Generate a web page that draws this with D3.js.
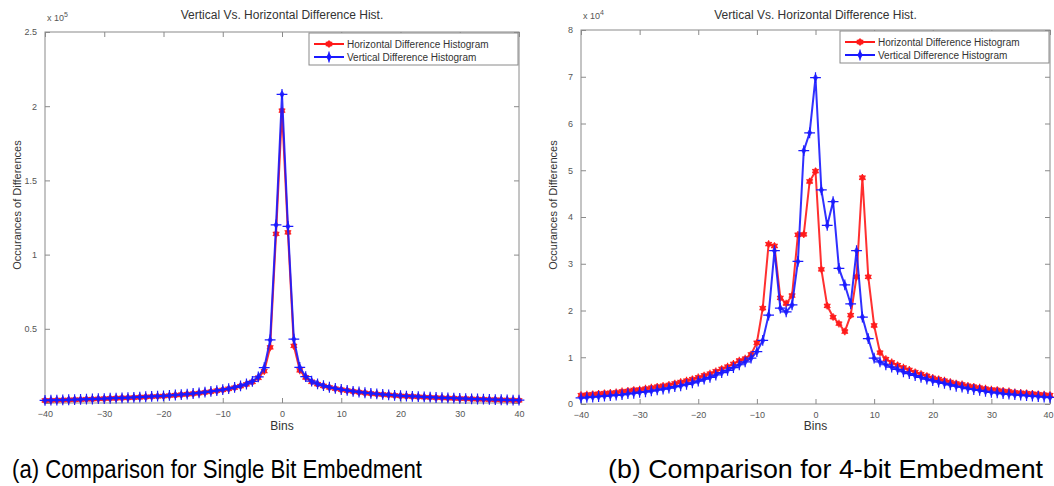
<!DOCTYPE html>
<html>
<head>
<meta charset="utf-8">
<script src="https://cdn.jsdelivr.net/npm/d3@7"></script>
<style>
  body { margin: 0; background: #fff; }
  svg { display: block; font-family: "Liberation Sans", Arial, sans-serif; }
</style>
</head>
<body>
<div class="canvas"></div>
<script>
// bins on the x axis
const bins = d3.range(-40, 41);
const xTicks = [-40, -30, -20, -10, 0, 10, 20, 30, 40];

// (a) single bit, values in units of 10^5
const leftTicks = [0, 0.5, 1, 1.5, 2, 2.5];
const leftHoriz = [
  0.017, 0.018, 0.019, 0.020, 0.021, 0.022, 0.023, 0.025, 0.026, 0.028,
  0.029, 0.031, 0.032, 0.034, 0.035, 0.037, 0.039, 0.041, 0.043, 0.045,
  0.047, 0.050, 0.053, 0.056, 0.059, 0.063, 0.067, 0.072, 0.077, 0.083,
  0.089, 0.096, 0.104, 0.114, 0.126, 0.142, 0.170, 0.215, 0.375, 1.14,
  1.97,
  1.15, 0.385, 0.220, 0.172, 0.143, 0.127, 0.115, 0.105, 0.097, 0.090,
  0.084, 0.078, 0.073, 0.068, 0.064, 0.060, 0.057, 0.054, 0.051, 0.048,
  0.046, 0.044, 0.042, 0.040, 0.038, 0.036, 0.035, 0.033, 0.032, 0.030,
  0.029, 0.027, 0.026, 0.025, 0.023, 0.022, 0.021, 0.020, 0.019, 0.018
];
const leftVert = [
  0.018, 0.019, 0.020, 0.021, 0.022, 0.023, 0.024, 0.026, 0.027, 0.029,
  0.030, 0.032, 0.033, 0.035, 0.036, 0.038, 0.040, 0.042, 0.044, 0.046,
  0.048, 0.051, 0.054, 0.057, 0.060, 0.064, 0.068, 0.073, 0.078, 0.084,
  0.090, 0.097, 0.105, 0.116, 0.128, 0.146, 0.176, 0.238, 0.425, 1.20,
  2.08,
  1.19, 0.43, 0.24, 0.178, 0.147, 0.129, 0.117, 0.106, 0.098, 0.091,
  0.085, 0.079, 0.074, 0.069, 0.065, 0.061, 0.058, 0.055, 0.052, 0.049,
  0.047, 0.045, 0.043, 0.041, 0.039, 0.037, 0.036, 0.034, 0.033, 0.031,
  0.030, 0.028, 0.027, 0.026, 0.024, 0.023, 0.022, 0.021, 0.020, 0.019
];

// (b) 4-bit, values in units of 10^4
const rightTicks = [0, 1, 2, 3, 4, 5, 6, 7, 8];
const rightHoriz = [
  0.19, 0.20, 0.21, 0.22, 0.23, 0.24, 0.25, 0.27, 0.28, 0.30,
  0.31, 0.33, 0.35, 0.37, 0.39, 0.41, 0.44, 0.47, 0.50, 0.53,
  0.57, 0.61, 0.65, 0.70, 0.75, 0.80, 0.86, 0.93, 0.97, 1.06,
  1.31, 2.05, 3.42, 3.38, 2.27, 2.15, 2.32, 3.62, 3.63, 4.76,
  4.98,
  2.88, 2.10, 1.86, 1.72, 1.55, 1.90, 2.72, 4.84, 2.72, 1.68,
  1.10, 0.96, 0.89, 0.83, 0.78, 0.73, 0.68, 0.64, 0.60, 0.56,
  0.53, 0.50, 0.47, 0.44, 0.42, 0.39, 0.37, 0.35, 0.33, 0.31,
  0.30, 0.28, 0.27, 0.25, 0.24, 0.23, 0.22, 0.21, 0.20, 0.19
];
const rightVert = [
  0.13, 0.14, 0.15, 0.16, 0.17, 0.18, 0.19, 0.20, 0.22, 0.23,
  0.25, 0.26, 0.28, 0.30, 0.32, 0.34, 0.37, 0.39, 0.42, 0.45,
  0.49, 0.53, 0.57, 0.62, 0.67, 0.72, 0.78, 0.84, 0.90, 0.98,
  1.12, 1.36, 1.90, 3.28, 2.05, 1.97, 2.12, 3.05, 5.42, 5.80,
  6.98,
  4.58, 3.82, 4.33, 2.90, 2.55, 2.14, 3.28, 1.86, 1.40, 0.98,
  0.90, 0.84, 0.79, 0.74, 0.69, 0.65, 0.61, 0.57, 0.53, 0.50,
  0.47, 0.44, 0.41, 0.38, 0.36, 0.33, 0.31, 0.29, 0.27, 0.25,
  0.24, 0.22, 0.21, 0.20, 0.19, 0.18, 0.17, 0.16, 0.15, 0.14
];

const title = "Vertical Vs. Horizontal Difference Hist.";
const legendLabels = ["Horizontal Difference Histogram", "Vertical Difference Histogram"];
const colors = ["#ff1a1a", "#1a1aff"];

const panels = [
  { left: 45, right: 519, top: 32, bottom: 403, yMax: 2.5, ticks: leftTicks, exp: "5",
    series: [leftHoriz, leftVert], caption: "(a) Comparison for Single Bit Embedment", capX: 12, capW: 410 },
  { left: 581, right: 1050, top: 30, bottom: 404, yMax: 8, ticks: rightTicks, exp: "4",
    series: [rightHoriz, rightVert], caption: "(b) Comparison for 4-bit Embedment", capX: 608, capW: 435 }
];

const svg = d3
  .select(".canvas")
  .append("svg")
  .attr("width", 1054)
  .attr("height", 486);

const axisColor = "#8a8a8a";

panels.forEach((p) => {
  const x = d3.scaleLinear().domain([-40, 40]).range([p.left, p.right]);
  const y = d3.scaleLinear().domain([0, p.yMax]).range([p.bottom, p.top]);
  const g = svg.append("g");

  // box
  g.append("rect")
    .attr("x", p.left)
    .attr("y", p.top)
    .attr("width", p.right - p.left)
    .attr("height", p.bottom - p.top)
    .attr("fill", "none")
    .attr("stroke", axisColor);

  // axes with inward ticks, also mirrored on top / right
  const xAxis = d3.axisBottom(x).tickValues(xTicks).tickSizeInner(-5).tickSizeOuter(0).tickPadding(8);
  const yAxis = d3.axisLeft(y).tickValues(p.ticks).tickSizeInner(-5).tickSizeOuter(0).tickPadding(8)
    .tickFormat((d) => (d === 0 && p.yMax === 2.5 ? "" : d));
  const xTop = d3.axisTop(x).tickValues(xTicks).tickSizeInner(-5).tickSizeOuter(0).tickFormat("");
  const yRight = d3.axisRight(y).tickValues(p.ticks).tickSizeInner(-5).tickSizeOuter(0).tickFormat("");

  [[xAxis, `translate(0,${p.bottom})`], [yAxis, `translate(${p.left},0)`],
   [xTop, `translate(0,${p.top})`], [yRight, `translate(${p.right},0)`]].forEach(([ax, tr]) => {
    const a = g.append("g").attr("transform", tr).call(ax);
    a.select(".domain").remove();
    a.selectAll("line").attr("stroke", axisColor);
    a.selectAll("text").attr("fill", "#555").style("font-size", "9px");
  });

  // keep the last x label inside the page
  g.selectAll("text")
    .filter(function () { return this.textContent === "40" && +d3.select(this.parentNode).attr("transform").match(/[\d.]+/)[0] > 1040; })
    .attr("text-anchor", "end")
    .attr("dx", 3);

  // exponent
  const ex = g.append("text")
    .attr("x", p.left + 2)
    .attr("y", p.top - 11)
    .attr("fill", "#555")
    .style("font-size", "9px")
    .text("x 10");
  ex.append("tspan").attr("dy", -4).style("font-size", "7px").text(p.exp);

  // series
  const line = d3.line()
    .x((d, i) => x(bins[i]))
    .y((d) => y(d));

  p.series.forEach((vals, k) => {
    const s = g.append("g");
    s.append("path")
      .datum(vals)
      .attr("fill", "none")
      .attr("stroke", colors[k])
      .attr("stroke-width", 2)
      .attr("stroke-opacity", 0.9)
      .attr("d", line);

    const marker = d3.symbol().type(k === 0 ? d3.symbolCircle : d3.symbolDiamond).size(k === 0 ? 26 : 22);
    const star = d3.symbol().type(k === 0 ? d3.symbolAsterisk : d3.symbolPlus).size(40);
    s.selectAll(".m")
      .data(vals)
      .enter()
      .append("path")
      .attr("transform", (d, i) => `translate(${x(bins[i])},${y(d)})`)
      .attr("d", marker)
      .attr("fill", colors[k])
      .attr("fill-opacity", 0.85);
    s.selectAll(".st")
      .data(vals)
      .enter()
      .append("path")
      .attr("transform", (d, i) => `translate(${x(bins[i])},${y(d)})`)
      .attr("d", star)
      .attr("fill", "none")
      .attr("stroke", colors[k])
      .attr("stroke-width", 1.2);
  });

  const cx = (p.left + p.right) / 2;

  // title
  g.append("text")
    .attr("x", cx)
    .attr("y", 19)
    .attr("text-anchor", "middle")
    .attr("fill", "#333")
    .style("font-size", "12px")
    .text(title);

  // axis labels
  g.append("text")
    .attr("x", cx)
    .attr("y", 430)
    .attr("text-anchor", "middle")
    .attr("fill", "#333")
    .style("font-size", "12px")
    .text("Bins");

  g.append("text")
    .attr("transform", `translate(${p.left - 24},205) rotate(-90)`)
    .attr("text-anchor", "middle")
    .attr("fill", "#333")
    .style("font-size", "11px")
    .text("Occurances of Differences");

  // legend
  const lx = p.right - 210;
  const lg = g.append("g");
  lg.append("rect")
    .attr("x", lx)
    .attr("y", p.top + 1)
    .attr("width", 209)
    .attr("height", 32)
    .attr("fill", "#fff")
    .attr("stroke", axisColor);

  legendLabels.forEach((lab, k) => {
    const ly = p.top + 12 + k * 13;
    lg.append("line")
      .attr("x1", lx + 5)
      .attr("x2", lx + 35)
      .attr("y1", ly)
      .attr("y2", ly)
      .attr("stroke", colors[k])
      .attr("stroke-width", 2);
    lg.append("path")
      .attr("transform", `translate(${lx + 20},${ly})`)
      .attr("d", d3.symbol().type(k === 0 ? d3.symbolCircle : d3.symbolDiamond).size(26))
      .attr("fill", colors[k]);
    lg.append("path")
      .attr("transform", `translate(${lx + 20},${ly})`)
      .attr("d", d3.symbol().type(k === 0 ? d3.symbolAsterisk : d3.symbolPlus).size(40))
      .attr("stroke", colors[k])
      .attr("stroke-width", 1.2);
    lg.append("text")
      .attr("x", lx + 38)
      .attr("y", ly + 3.5)
      .attr("fill", "#333")
      .style("font-size", "10px")
      .text(lab);
  });

  // caption
  svg.append("text")
    .attr("x", p.capX)
    .attr("y", 478)
    .attr("fill", "#000")
    .attr("textLength", p.capW)
    .attr("lengthAdjust", "spacingAndGlyphs")
    .style("font-size", "25px")
    .text(p.caption);
});
</script>
</body>
</html>
